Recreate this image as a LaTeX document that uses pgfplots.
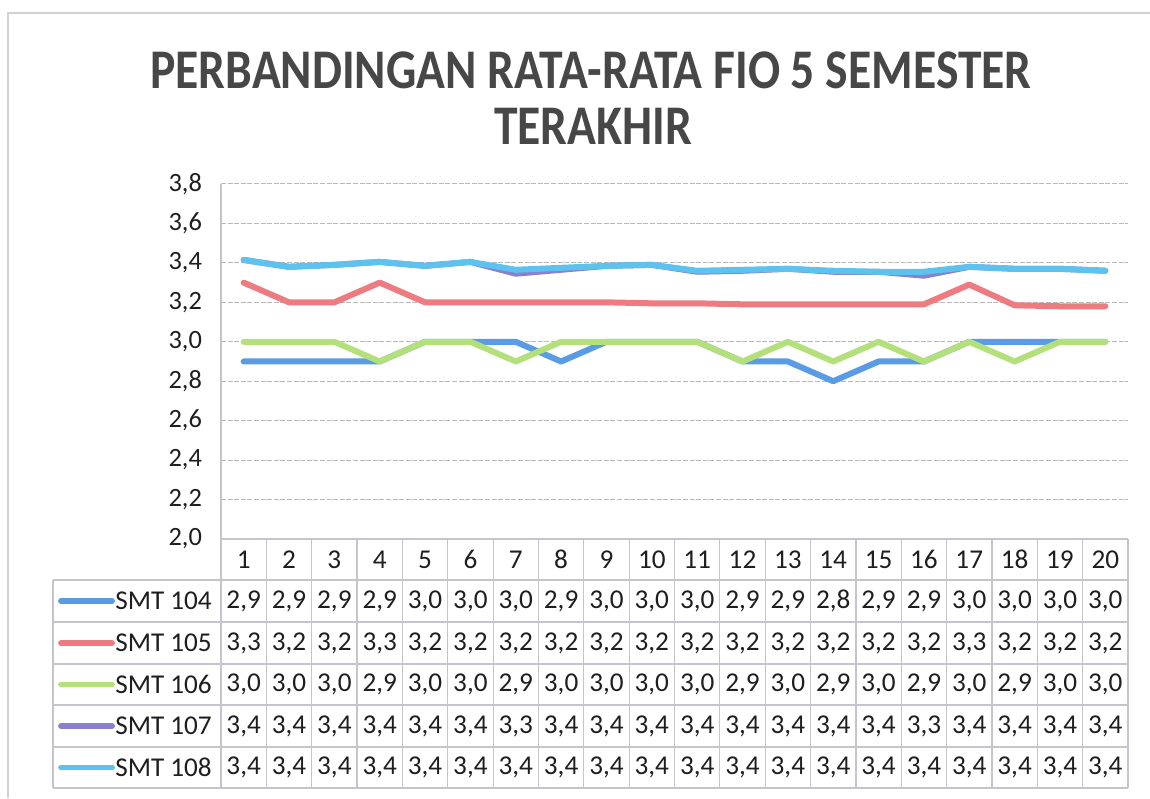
\documentclass[border=0pt]{standalone}
\usepackage{graphicx}
\usepackage{pgfplots}
\pgfplotsset{compat=1.18}
\usepackage{pgfplotstable}
\usepackage{fontspec}
\setmainfont{Carlito}
\definecolor{c104}{HTML}{5A9BE6}
\definecolor{c105}{HTML}{EE7B80}
\definecolor{c106}{HTML}{B4E07C}
\definecolor{c107}{HTML}{8B7FD0}
\definecolor{c108}{HTML}{5CC3EE}
\definecolor{txt}{HTML}{1E1E1E}
\definecolor{tline}{HTML}{C4C4CC}
\definecolor{ttl}{HTML}{474747}

\pgfplotstableread{
x  s104 s105  s106 s107  s108
1  2.9  3.30  3.0  3.415 3.415
2  2.9  3.20  3.0  3.38  3.38
3  2.9  3.20  3.0  3.39  3.39
4  2.9  3.30  2.9  3.405 3.405
5  3.0  3.20  3.0  3.385 3.385
6  3.0  3.20  3.0  3.405 3.405
7  3.0  3.20  2.9  3.345 3.365
8  2.9  3.20  3.0  3.365 3.375
9  3.0  3.20  3.0  3.385 3.385
10 3.0  3.195 3.0  3.39  3.39
11 3.0  3.195 3.0  3.355 3.36
12 2.9  3.19  2.9  3.36  3.365
13 2.9  3.19  3.0  3.37  3.37
14 2.8  3.19  2.9  3.355 3.36
15 2.9  3.19  3.0  3.355 3.355
16 2.9  3.19  2.9  3.335 3.355
17 3.0  3.29  3.0  3.38  3.38
18 3.0  3.185 2.9  3.37  3.37
19 3.0  3.18  3.0  3.37  3.37
20 3.0  3.18  3.0  3.36  3.36
}\data

\pgfplotsset{
  rowvals/.style={draw=none, forget plot, point meta=explicit,
    nodes near coords={\pgfmathprintnumber[fixed,fixed zerofill,precision=1,use comma]{\pgfplotspointmeta}},
    nodes near coords align={center},
    every node near coord/.append style={anchor=center, inner sep=0pt, text=txt,
      font=\fontsize{13.6}{16}\selectfont}},
  serie/.style={line width=3pt, line cap=round, line join=round, mark=none},
}

\begin{document}
\begin{tikzpicture}
\useasboundingbox (0,0) rectangle (575pt,399pt);
\draw[gray!35, line width=0.6pt] (4pt,0) -- (4pt,392.5pt) -- (575pt,392.5pt);
\begin{axis}[
  at={(110.5pt,129.5pt)}, anchor=south west,
  scale only axis, width=453.5pt, height=177.5pt,
  xmin=0.5, xmax=20.5, ymin=2, ymax=3.8,
  clip=false,
  axis lines*=left,
  axis line style={draw=tline, line width=0.6pt},
  ytick={2.0,2.2,2.4,2.6,2.8,3.0,3.2,3.4,3.6,3.8},
  xtick={1,...,20},
  major tick length=0pt,
  ymajorgrids,
  major grid style={draw=gray!55, line width=0.5pt, dash pattern=on 2.5pt off 0.8pt},
  /pgf/number format/assume math mode=true,
  y tick label style={font=\fontsize{13.2}{15}\selectfont, text=txt, xshift=-6pt,
    /pgf/number format/fixed, /pgf/number format/fixed zerofill,
    /pgf/number format/precision=1, /pgf/number format/use comma},
  x tick label style={font=\fontsize{13.6}{16}\selectfont, text=txt, anchor=center, yshift=-10.25pt},
]
\addplot[serie, c104] table[x=x, y=s104] {\data};
\addplot[serie, c105] table[x=x, y=s105] {\data};
\addplot[serie, c106] table[x=x, y=s106] {\data};
\addplot[serie, c107] table[x=x, y=s107] {\data};
\addplot[serie, c108] table[x=x, y=s108] {\data};

% data table grid
\pgfplotsinvokeforeach{0.5,1.5,2.5,3.5,4.5,5.5,6.5,7.5,8.5,9.5,10.5,11.5,12.5,13.5,14.5,15.5,16.5,17.5,18.5,19.5,20.5}{
  \draw[tline, line width=0.6pt] (axis cs:#1,2) -- (axis cs:#1,0.737);
}
\pgfplotsinvokeforeach{1.792,1.579,1.366,1.158,0.945,0.737}{
  \draw[tline, line width=0.6pt] (axis cs:-3.205,#1) -- (axis cs:20.5,#1);
}
\draw[tline, line width=0.6pt] (axis cs:-3.205,1.792) -- (axis cs:-3.205,0.737);

% data table values
\addplot[rowvals] table[x=x, y expr=1.6855, meta=s104] {\data};
\addplot[rowvals] table[x=x, y expr=1.4725, meta=s105] {\data};
\addplot[rowvals] table[x=x, y expr=1.262,  meta=s106] {\data};
\addplot[rowvals] table[x=x, y expr=1.0515, meta=s107] {\data};
\addplot[rowvals] table[x=x, y expr=0.841,  meta=s108] {\data};

% legend keys in the table
\draw[c104, line width=2.8pt, line cap=round] (axis cs:-3.03,1.6855) -- (axis cs:-1.9,1.6855);
\draw[c105, line width=2.8pt, line cap=round] (axis cs:-3.03,1.4725) -- (axis cs:-1.9,1.4725);
\draw[c106, line width=2.8pt, line cap=round] (axis cs:-3.03,1.262) -- (axis cs:-1.9,1.262);
\draw[c107, line width=2.8pt, line cap=round] (axis cs:-3.03,1.0515) -- (axis cs:-1.9,1.0515);
\draw[c108, line width=2.8pt, line cap=round] (axis cs:-3.03,0.841) -- (axis cs:-1.9,0.841);
\node[anchor=west, inner sep=0pt, text=txt, font=\fontsize{13.6}{16}\selectfont] at (axis cs:-1.84,1.6855) {SMT 104};
\node[anchor=west, inner sep=0pt, text=txt, font=\fontsize{13.6}{16}\selectfont] at (axis cs:-1.84,1.4725) {SMT 105};
\node[anchor=west, inner sep=0pt, text=txt, font=\fontsize{13.6}{16}\selectfont] at (axis cs:-1.84,1.262) {SMT 106};
\node[anchor=west, inner sep=0pt, text=txt, font=\fontsize{13.6}{16}\selectfont] at (axis cs:-1.84,1.0515) {SMT 107};
\node[anchor=west, inner sep=0pt, text=txt, font=\fontsize{13.6}{16}\selectfont] at (axis cs:-1.84,0.841) {SMT 108};
\end{axis}
\node[inner sep=0pt, text=ttl, font=\fontsize{28}{32}\selectfont\bfseries] at (295.5pt,364pt)
  {\scalebox{0.85}[1]{PERBANDINGAN RATA-RATA FIO 5 SEMESTER}};
\node[inner sep=0pt, text=ttl, font=\fontsize{28}{32}\selectfont\bfseries] at (296.5pt,336pt)
  {\scalebox{0.85}[1]{TERAKHIR}};
\end{tikzpicture}
\end{document}
